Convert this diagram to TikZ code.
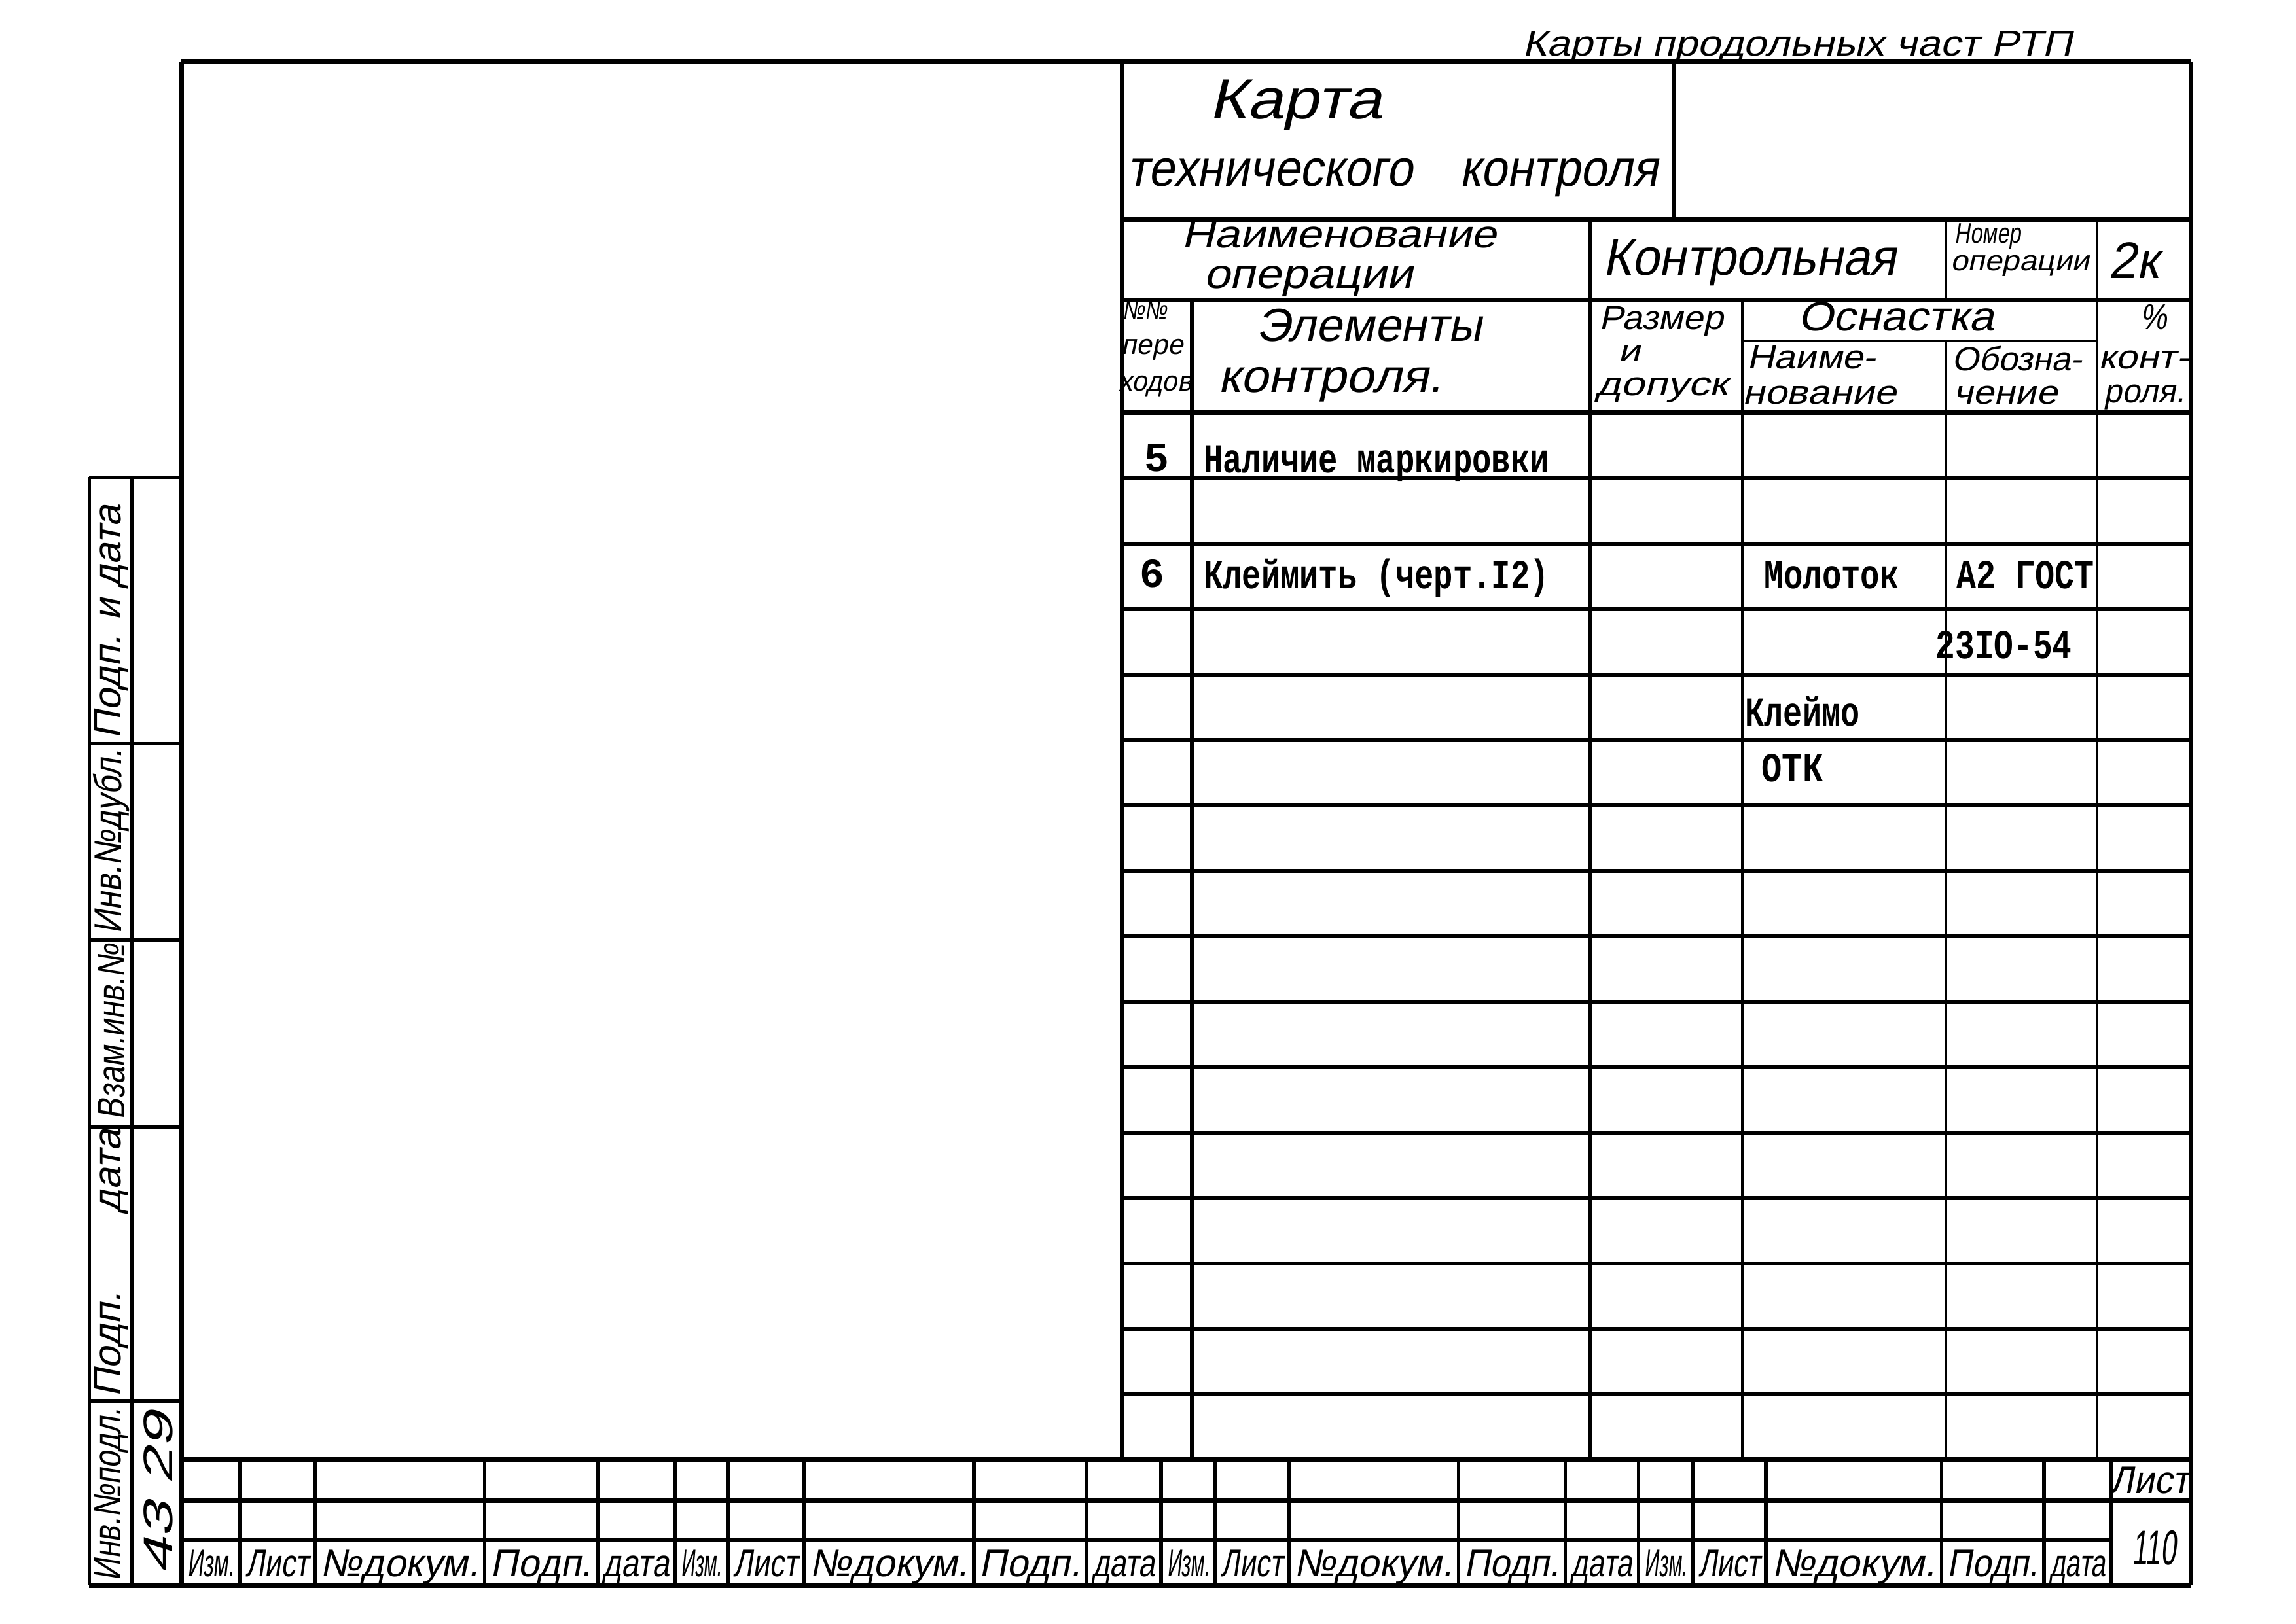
\documentclass[tikz,border=0pt]{standalone}
\usepackage{fontspec}
\usepackage{graphicx}
\newfontfamily\hw[FakeSlant=0.2]{Liberation Sans}
\newfontfamily\tw{Liberation Mono}
\newcommand\T[3]{\fontsize{#1}{#1}\selectfont\resizebox{#2mm}{\height}{#3}}
\begin{document}
\begin{tikzpicture}[x=0.02cm,y=-0.02cm,
  thk/.style={line width=1.9pt},
  med/.style={line width=1.4pt},
  thn/.style={line width=1pt},
  hwt/.style={inner sep=0pt,outer sep=0pt,font=\hw},
  twt/.style={inner sep=0pt,outer sep=0pt,font=\tw\bfseries}]
\useasboundingbox[fill=white] (0,0) rectangle (1568,1109);

% ---- outer frame
\draw[thk] (124,42) -- (1496,42);
\draw[thk] (124,42) -- (124,1083);
\draw[med] (1496,42) -- (1496,1083);
\draw[thk] (61,1083) -- (1496,1083);

% ---- left strip
\draw[med] (61,326) -- (124,326);
\draw[med] (61,326) -- (61,1083);
\draw[med] (90,326) -- (90,1083);
\foreach \yy in {508,642,770,957} \draw[med] (61,\yy) -- (124,\yy);

% ---- header of the card
\draw[med] (766,42) -- (766,997);
\draw[med] (1143,42) -- (1143,150);
\draw[thk] (766,150) -- (1496,150);
\draw[thk] (766,205) -- (1496,205);
\draw[thn] (1190,233) -- (1432,233);
\draw[thk] (766,282) -- (1496,282);
\draw[med] (814,205) -- (814,997);
\draw[med] (1086,150) -- (1086,997);
\draw[med] (1190,205) -- (1190,997);
\draw[thn] (1329,150) -- (1329,205);
\draw[thn] (1329,233) -- (1329,997);
\draw[thn] (1432,150) -- (1432,997);
\foreach \i in {1,...,15} \draw[med] (766,{282+44.7*\i}) -- (1496,{282+44.7*\i});

% ---- title block
\draw[thk] (124,997) -- (1496,997);
\draw[thk] (124,1025) -- (1496,1025);
\draw[thk] (124,1052) -- (1442,1052);
\foreach \xx in {164,215,331,408,461,497,549,665,742,793,830,880,996,1069,1119,1156,1206,1326,1396,1442}
  \draw[med] (\xx,997) -- (\xx,1083);

\foreach \l/\r/\t [count=\i] in {124/164/Изм.,164/215/Лист,215/331/№докум.,331/408/Подп.,408/461/дата,
  461/497/Изм.,497/549/Лист,549/665/№докум.,665/742/Подп.,742/793/дата,
  793/830/Изм.,830/880/Лист,880/996/№докум.,996/1069/Подп.,1069/1119/дата,
  1119/1156/Изм.,1156/1206/Лист,1206/1326/№докум.,1326/1396/Подп.,1396/1442/дата}{
  \pgfmathsetmacro\w{(\r-\l-8)*0.2}
  \node[hwt,anchor=base] (tb\i) at ({(\l+\r)/2},1077) {\T{15}{\w}{\t}};
}
\node[hwt,anchor=base west] (list) at (1441,1020) {\T{15}{10.8}{Лист}};
\node[hwt,anchor=base] (sheet) at (1471,1069) {\T{19}{6}{110}};

% ---- texts of the header
\node[hwt,anchor=base west] (topnote) at (1040,38) {\T{14}{75}{Карты продольных част РТП}};
\node[hwt,anchor=base west] (karta) at (826,81) {\T{22}{23.5}{Карта}};
\node[hwt,anchor=base west] (tk) at (770,127) {\T{20}{72.5}{технического\quad контроля}};
\node[hwt,anchor=base west] (nop1) at (807,169) {\T{15}{43}{Наименование}};
\node[hwt,anchor=base west] (nop2) at (822,197) {\T{16}{28.6}{операции}};
\node[hwt,anchor=base west] (kontr) at (1095,188) {\T{20}{40}{Контрольная}};
\node[hwt,anchor=base west] (nom1) at (1335,166) {\T{11}{9}{Номер}};
\node[hwt,anchor=base west] (nom2) at (1332,185) {\T{11}{19}{операции}};
\node[hwt,anchor=base west] (opnum) at (1440,190) {\T{20}{6.8}{2к}};

\node[hwt,anchor=base west] (h1a) at (767,218) {\T{10}{6}{№№}};
\node[hwt,anchor=base west] (h1b) at (766,242) {\T{11}{8.4}{пере}};
\node[hwt,anchor=base west] (h1c) at (764,267) {\T{11}{10}{ходов}};
\node[hwt,anchor=base west] (h2a) at (858,233) {\T{18}{30.8}{Элементы}};
\node[hwt,anchor=base west] (h2b) at (832,268) {\T{18}{30.6}{контроля.}};
\node[hwt,anchor=base west] (h3a) at (1092,225) {\T{13}{17}{Размер}};
\node[hwt,anchor=base west] (h3b) at (1105,247) {\T{12}{3}{и}};
\node[hwt,anchor=base west] (h3c) at (1090,270) {\T{13}{18}{допуск}};
\node[hwt,anchor=base west] (h4) at (1228,226) {\T{16}{26.8}{Оснастка}};
\node[hwt,anchor=base west] (h5a) at (1193,252) {\T{13}{17.6}{Наиме-}};
\node[hwt,anchor=base west] (h5b) at (1190,276) {\T{13}{21}{нование}};
\node[hwt,anchor=base west] (h6a) at (1333,253) {\T{13}{17.8}{Обозна-}};
\node[hwt,anchor=base west] (h6b) at (1334,276) {\T{13}{14.2}{чение}};
\node[hwt,anchor=base west] (h7a) at (1462,225) {\T{14}{3.6}{\%}};
\node[hwt,anchor=base west] (h7b) at (1433,252) {\T{13}{12.4}{конт-}};
\node[hwt,anchor=base west] (h7c) at (1437,275) {\T{13}{11}{роля.}};

% ---- typed entries
\node[twt,anchor=base] (n5) at (790,322) {\fontsize{16}{16}\selectfont 5};
\node[twt,anchor=base west] (e5) at (822,323) {\T{16}{47.2}{Наличие маркировки}};
\node[twt,anchor=base] (n6) at (787,401) {\fontsize{16}{16}\selectfont 6};
\node[twt,anchor=base west] (e6) at (822,402) {\T{16}{47.2}{Клеймить (черт.I2)}};
\node[twt,anchor=base west] (t1) at (1205,402) {\T{16}{18.4}{Молоток}};
\node[twt,anchor=base west] (d1) at (1336,402) {\T{16}{18.8}{А2 ГОСТ}};
\node[twt,anchor=base west] (d2) at (1322,450) {\T{16}{18.6}{23IO-54}};
\node[twt,anchor=base west] (t2) at (1192,496) {\T{16}{15.6}{Клеймо}};
\node[twt,anchor=base west] (t3) at (1203,534) {\T{16}{8.4}{ОТК}};

% ---- left strip labels
\node[hwt,rotate=90] (s1) at (76,425) {\T{15}{32}{Подп. и дата}};
\node[hwt,rotate=90] (s2) at (76,575) {\T{15}{25.2}{Инв.№дубл.}};
\node[hwt,rotate=90] (s3) at (76,705) {\T{15}{24}{Взам.инв.№}};
\node[hwt,rotate=90] (s4) at (76,863) {\T{15}{36.6}{Подп.\qquad дата}};
\node[hwt,rotate=90] (s5) at (76,1021) {\T{15}{23.6}{Инв.№подл.}};
\node[hwt,rotate=90] (s6) at (108,1020) {\T{16}{22}{43 29}};
\end{tikzpicture}
\end{document}
